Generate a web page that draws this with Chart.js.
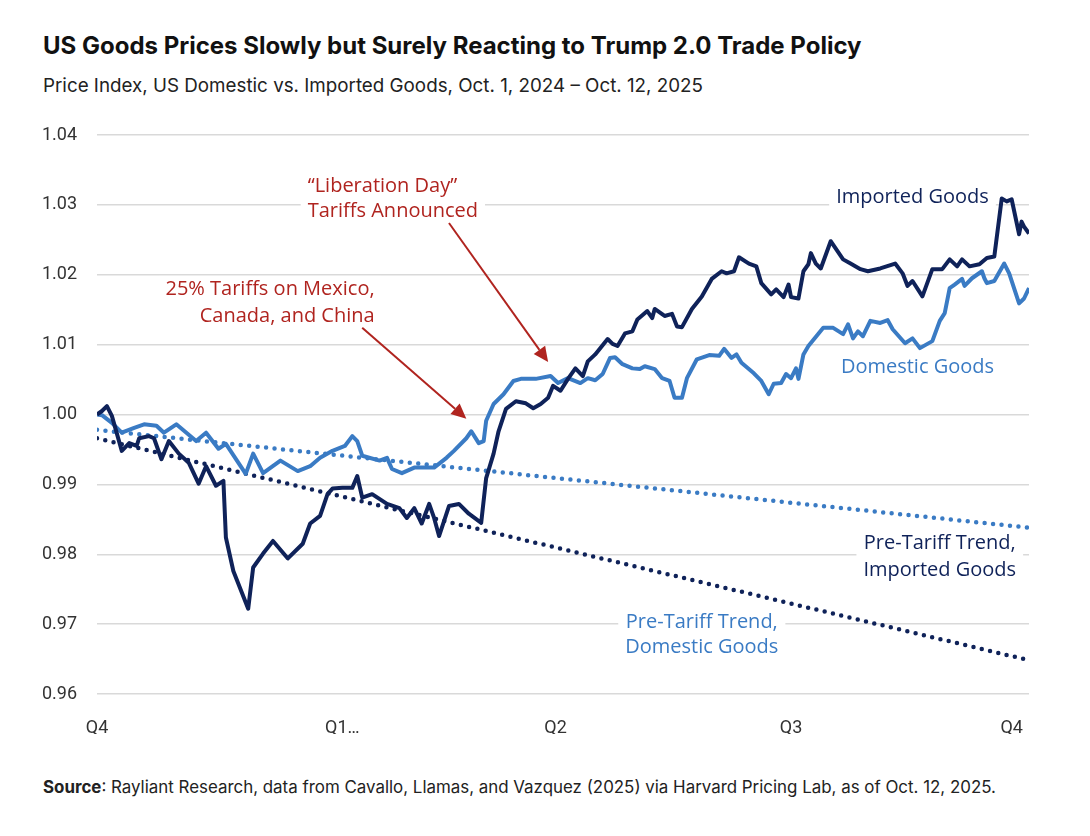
<!DOCTYPE html>
<html>
<head>
<meta charset="utf-8">
<script src="https://cdn.jsdelivr.net/npm/chart.js@4.4.1/dist/chart.umd.min.js"></script>
<style>
  html, body { margin: 0; padding: 0; background: #fff; }
  #wrap { position: relative; width: 1090px; height: 836px; font-family: Inter, sans-serif; color: #111; }
  #title { position: absolute; left: 43px; top: 31px; font-size: 24px; font-weight: 700; white-space: nowrap; }
  #subtitle { position: absolute; left: 43px; top: 74px; font-size: 18.8px; color: #222; white-space: nowrap; }
  #source { position: absolute; left: 43px; top: 777px; font-size: 16.9px; color: #222; white-space: nowrap; }
  #chart { position: absolute; left: 0; top: 0; }
</style>
</head>
<body>
<div id="wrap">
  <div id="title">US Goods Prices Slowly but Surely Reacting to Trump 2.0 Trade Policy</div>
  <div id="subtitle">Price Index, US Domestic vs. Imported Goods, Oct. 1, 2024 – Oct. 12, 2025</div>
  <div id="source"><b>Source</b>: Rayliant Research, data from Cavallo, Llamas, and Vazquez (2025) via Harvard Pricing Lab, as of Oct. 12, 2025.</div>
  <canvas id="chart" width="1090" height="836"></canvas>
</div>
<script>
// days since Oct. 1, 2024
const importedDays = [0, 2, 4, 6, 10, 13, 16, 17, 21, 23, 26, 29, 33, 37, 41, 44, 48, 51, 52, 55,
  61, 63, 67, 71, 77, 83, 86, 90, 93, 95, 99, 103, 105, 107, 111, 117, 122, 125, 128, 131,
  134, 136, 138, 142, 146, 150, 155, 157, 160, 162, 165, 169, 173, 176, 179, 182, 184, 187, 190, 193,
  196, 198, 201, 206, 208, 210, 213, 216, 218, 222, 224, 225, 229, 232, 234, 236, 240, 244, 248, 252,
  254, 257, 259, 263, 266, 268, 272, 274, 277, 279, 280, 283, 285, 287, 288, 290, 292, 296, 301, 304,
  308, 311, 316, 322, 325, 327, 329, 333, 337, 341, 344, 347, 349, 352, 356, 359, 362, 365, 367, 369,
  372, 373, 374, 376];
const importedValues = [1.0000, 1.0005, 1.0012, 0.9998, 0.9948, 0.9959, 0.9955, 0.9966, 0.9969, 0.9966,
  0.9936, 0.9962, 0.9944, 0.9931, 0.9901, 0.9926, 0.9898, 0.9905, 0.9824, 0.9776,
  0.9722, 0.9781, 0.9801, 0.9819, 0.9794, 0.9815, 0.9844, 0.9855, 0.9886, 0.9894,
  0.9895, 0.9895, 0.9912, 0.9881, 0.9886, 0.9872, 0.9866, 0.9852, 0.9866, 0.9844,
  0.9872, 0.9852, 0.9826, 0.9869, 0.9872, 0.9858, 0.9845, 0.9909, 0.9944, 0.9976,
  1.0008, 1.0019, 1.0016, 1.0009, 1.0015, 1.0024, 1.0041, 1.0034, 1.0051, 1.0066,
  1.0055, 1.0076, 1.0086, 1.0108, 1.0101, 1.0098, 1.0116, 1.0119, 1.0136, 1.0148,
  1.0138, 1.0151, 1.0141, 1.0144, 1.0126, 1.0125, 1.0151, 1.0169, 1.0194, 1.0205,
  1.0202, 1.0205, 1.0225, 1.0216, 1.0212, 1.0188, 1.0172, 1.0179, 1.0168, 1.0186,
  1.0168, 1.0166, 1.0205, 1.0215, 1.0231, 1.0216, 1.0209, 1.0248, 1.0222, 1.0216,
  1.0208, 1.0205, 1.0209, 1.0216, 1.0202, 1.0184, 1.0191, 1.0169, 1.0208, 1.0208,
  1.0222, 1.0212, 1.0222, 1.0212, 1.0215, 1.0224, 1.0226, 1.0309, 1.0305, 1.0308,
  1.0258, 1.0276, 1.0269, 1.0259];

const domesticDays = [0, 2, 6, 10, 15, 19, 24, 27, 32, 40, 44, 49, 52, 60, 63, 67, 74, 81, 86, 90,
  95, 100, 103, 105, 107, 114, 117, 119, 123, 128, 136, 141, 144, 149, 151, 154, 156, 157, 160, 164,
  168, 171, 177, 183, 186, 190, 195, 198, 201, 204, 207, 209, 212, 216, 219, 221, 225, 228, 231, 233,
  236, 238, 242, 247, 251, 253, 256, 258, 260, 265, 268, 271, 273, 276, 278, 280, 282, 283, 285, 287,
  293, 297, 301, 303, 305, 307, 309, 312, 316, 319, 321, 326, 329, 332, 337, 340, 342, 344, 346, 349,
  350, 353, 357, 358, 359, 362, 366, 368, 372, 374, 376];
const domesticValues = [1.0000, 0.9999, 0.9988, 0.9974, 0.9981, 0.9986, 0.9984, 0.9974, 0.9986, 0.9962,
  0.9974, 0.9951, 0.9958, 0.9915, 0.9944, 0.9916, 0.9934, 0.9919, 0.9926, 0.9938,
  0.9948, 0.9955, 0.9969, 0.9962, 0.9941, 0.9934, 0.9938, 0.9922, 0.9916, 0.9924,
  0.9924, 0.9938, 0.9948, 0.9966, 0.9976, 0.9959, 0.9962, 0.9991, 1.0015, 1.0029,
  1.0048, 1.0051, 1.0051, 1.0055, 1.0045, 1.0052, 1.0045, 1.0052, 1.0049, 1.0058,
  1.0081, 1.0082, 1.0072, 1.0066, 1.0065, 1.0069, 1.0065, 1.0052, 1.0048, 1.0024,
  1.0024, 1.0052, 1.0079, 1.0085, 1.0084, 1.0094, 1.0081, 1.0086, 1.0074, 1.0059,
  1.0048, 1.0029, 1.0044, 1.0045, 1.0058, 1.0052, 1.0066, 1.0051, 1.0086, 1.0098,
  1.0124, 1.0124, 1.0115, 1.0129, 1.0109, 1.0119, 1.0112, 1.0134, 1.0131, 1.0135,
  1.0122, 1.0102, 1.0109, 1.0095, 1.0105, 1.0134, 1.0145, 1.0181, 1.0186, 1.0194,
  1.0184, 1.0195, 1.0205, 1.0195, 1.0188, 1.0191, 1.0216, 1.0202, 1.0159, 1.0166,
  1.0181];

// pre-tariff trends (straight lines, start and end)
const trendDomesticDays = [0, 376];
const trendDomesticValues = [0.9978, 0.9838];
const trendImportedDays = [0, 374];
const trendImportedValues = [0.9966, 0.9650];

const quarterTickDays = [0, 99, 185, 280, 369];
const quarterLabels = ['Q4', 'Q1…', 'Q2', 'Q3', 'Q4'];
const yTickValues = [0.96, 0.97, 0.98, 0.99, 1.00, 1.01, 1.02, 1.03, 1.04];

const NAVY = '#0f2259';
const BLUE = '#3a7bc4';
const RED = '#b0241f';

const toPoints = (days, values) => days.map((d, i) => ({ x: d, y: values[i] }));

const notes = [
  { lines: ['Imported Goods'], day: 329, value: 1.0311, align: 'center', color: NAVY, lh: 26 },
  { lines: ['Domestic Goods'], day: 331, value: 1.0068, align: 'center', color: BLUE, lh: 26 },
  { lines: ['Pre-Tariff Trend,', 'Imported Goods'], day: 340, value: 0.9815, align: 'center', color: NAVY, lh: 27 },
  { lines: ['Pre-Tariff Trend,', 'Domestic Goods'], day: 244, value: 0.9702, align: 'center', color: BLUE, lh: 25 },
  { lines: ['“Liberation Day”', 'Tariffs Announced'], day: 85, value: 1.0326, align: 'left', color: RED, lh: 25 },
  { lines: ['25% Tariffs on Mexico,', 'Canada, and China'], day: 112, value: 1.0179, align: 'right', color: RED, lh: 27 }
];
const arrows = [
  { from: [142, 1.0274], to: [182, 1.0075] },
  { from: [107, 1.0124], to: [149, 0.9994] }
];
const NOTE_FONT = '20px "Open Sans", sans-serif';

function noteBoxes(chart, ctx) {
  const xs = chart.scales.x, ys = chart.scales.y;
  ctx.font = NOTE_FONT;
  return notes.map(n => {
    const ax = xs.getPixelForValue(n.day);
    const ay = ys.getPixelForValue(n.value);
    const rows = n.lines.map((t, i) => {
      const w = ctx.measureText(t).width;
      let left = ax;
      if (n.align === 'center') left = ax - w / 2;
      if (n.align === 'right') left = ax - w;
      return { t, left, w, y: ay + i * n.lh };
    });
    const minL = Math.min(...rows.map(r => r.left));
    const maxR = Math.max(...rows.map(r => r.left + r.w));
    return { n, rows, minL, maxR, top: ay - n.lh / 2, bottom: ay + (n.lines.length - 0.5) * n.lh };
  });
}

const notesPlugin = {
  id: 'notes',
  beforeDatasetsDraw(chart) {
    const ctx = chart.ctx;
    ctx.save();
    ctx.fillStyle = '#fff';
    noteBoxes(chart, ctx).forEach(b => {
      ctx.fillRect(b.minL - 7, b.top, b.maxR - b.minL + 14, b.bottom - b.top);
    });
    ctx.restore();
  },
  afterDatasetsDraw(chart) {
    const ctx = chart.ctx;
    const xs = chart.scales.x, ys = chart.scales.y;
    ctx.save();
    noteBoxes(chart, ctx).forEach(b => {
      ctx.font = NOTE_FONT;
      ctx.fillStyle = b.n.color;
      ctx.textAlign = 'left';
      ctx.textBaseline = 'middle';
      b.rows.forEach(r => ctx.fillText(r.t, r.left, r.y));
    });
    ctx.strokeStyle = RED;
    ctx.fillStyle = RED;
    ctx.lineWidth = 2;
    arrows.forEach(a => {
      const x1 = xs.getPixelForValue(a.from[0]), y1 = ys.getPixelForValue(a.from[1]);
      const x2 = xs.getPixelForValue(a.to[0]), y2 = ys.getPixelForValue(a.to[1]);
      const ang = Math.atan2(y2 - y1, x2 - x1);
      const len = 15, half = 7;
      const bx = x2 - len * Math.cos(ang), by = y2 - len * Math.sin(ang);
      ctx.beginPath();
      ctx.moveTo(x1, y1);
      ctx.lineTo(bx, by);
      ctx.stroke();
      ctx.beginPath();
      ctx.moveTo(x2, y2);
      ctx.lineTo(bx + half * Math.sin(ang), by - half * Math.cos(ang));
      ctx.lineTo(bx - half * Math.sin(ang), by + half * Math.cos(ang));
      ctx.closePath();
      ctx.fill();
    });
    ctx.restore();
  }
};

Chart.defaults.font.family = 'Roboto, sans-serif';

const ctx = document.getElementById('chart').getContext('2d');
new Chart(ctx, {
  type: 'line',
  data: {
    datasets: [{
      label: 'Imported Goods',
      data: toPoints(importedDays, importedValues),
      borderColor: NAVY,
      borderWidth: 4,
      borderJoinStyle: 'round',
      pointRadius: 0,
      tension: 0
    }, {
      label: 'Domestic Goods',
      data: toPoints(domesticDays, domesticValues),
      borderColor: BLUE,
      borderWidth: 4,
      borderJoinStyle: 'round',
      pointRadius: 0,
      tension: 0
    }, {
      label: 'Pre-Tariff Trend, Domestic Goods',
      data: toPoints(trendDomesticDays, trendDomesticValues),
      borderColor: BLUE,
      borderWidth: 4.5,
      borderDash: [0, 8.5],
      borderCapStyle: 'round',
      pointRadius: 0
    }, {
      label: 'Pre-Tariff Trend, Imported Goods',
      data: toPoints(trendImportedDays, trendImportedValues),
      borderColor: NAVY,
      borderWidth: 4.5,
      borderDash: [0, 8.5],
      borderCapStyle: 'round',
      pointRadius: 0
    }]
  },
  options: {
    responsive: false,
    animation: false,
    layout: { padding: { top: 135, right: 61, bottom: 102, left: 0 } },
    plugins: {
      legend: { display: false },
      tooltip: { enabled: false }
    },
    scales: {
      x: {
        type: 'linear',
        min: 0,
        max: 376,
        grid: { display: false },
        border: { display: false },
        afterBuildTicks: scale => { scale.ticks = quarterTickDays.map(v => ({ value: v })); },
        afterFit: scale => { scale.height = 40; },
        ticks: {
          autoSkip: false,
          maxRotation: 0,
          padding: 16,
          color: '#333',
          font: { size: 18 },
          callback: (v, i) => quarterLabels[i]
        }
      },
      y: {
        min: 0.96,
        max: 1.04,
        afterBuildTicks: scale => { scale.ticks = yTickValues.map(v => ({ value: v })); },
        afterFit: scale => { scale.width = 97; },
        grid: { color: '#d9d9d9', lineWidth: 1.5, drawTicks: false },
        border: { display: false },
        ticks: {
          padding: 20,
          color: '#333',
          font: { size: 18 },
          callback: v => v.toFixed(2)
        }
      }
    }
  },
  plugins: [notesPlugin]
});
</script>
</body>
</html>
